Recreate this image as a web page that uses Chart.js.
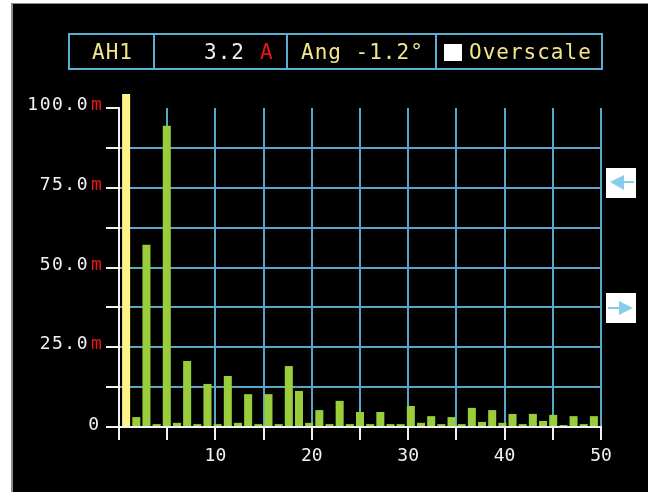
<!DOCTYPE html>
<html>
<head>
<meta charset="utf-8">
<title>Harmonics</title>
<script src="https://cdn.jsdelivr.net/npm/chart.js@4.4.1/dist/chart.umd.min.js"></script>
<style>
    html, body { margin: 0; padding: 0; background: #fff; width: 648px; height: 492px; overflow: hidden; }
    #screen {
        position: absolute; left: 11px; top: 3px; width: 637px; height: 489px;
        background: #000; box-sizing: border-box;
        border-left: 2px solid #8c8c8c; border-top: 1px solid #8c8c8c;
    }
    #wrap { position: absolute; left: 0; top: 0; width: 648px; height: 492px; }
    .hdr {
        position: absolute; left: 68px; top: 33px; width: 535px; height: 37px;
        border: 2px solid #5aaed0; box-sizing: border-box;
    }
    .sep { position: absolute; top: 33px; width: 2px; height: 37px; background: #5aaed0; }
    .txt {
        position: absolute; top: 42px; line-height: 21px; white-space: pre;
        font-family: "DejaVu Sans Mono", monospace; font-size: 21px; letter-spacing: 1px;
    }
    .yel { color: #f2e68c; }
    .wht { color: #f0f0f0; }
    .red { color: #e8141c; }
    .sq { position: absolute; left: 444px; top: 44px; width: 18px; height: 17px; background: #fff; }
    .btn { position: absolute; left: 606px; width: 30px; height: 30px; background: #fff; }
</style>
</head>
<body>
<div id="screen"></div>
<div id="wrap"><canvas id="harmChart"></canvas></div>

<!-- header strip -->
<div class="hdr"></div>
<div class="sep" style="left:153px"></div>
<div class="sep" style="left:286px"></div>
<div class="sep" style="left:435px"></div>
<div class="txt yel" style="left:92px">AH1</div>
<div class="txt wht" style="left:204px">3.2</div>
<div class="txt red" style="left:260px">A</div>
<div class="txt yel" style="left:301px">Ang -1.2°</div>
<div class="sq"></div>
<div class="txt yel" style="left:469px">Overscale</div>

<!-- cursor buttons -->
<div class="btn" style="top:168px">
    <svg width="30" height="30"><polygon points="4,14 18,7 18,22" fill="#87cdea"/><rect x="17" y="13" width="11" height="2" fill="#87cdea"/></svg>
</div>
<div class="btn" style="top:293px">
    <svg width="30" height="30"><rect x="2" y="14" width="12" height="2" fill="#87cdea"/><polygon points="27,15 13,8 13,22" fill="#87cdea"/></svg>
</div>

<script>
// --- Data ---
const harmonics = [1, 2, 3, 4, 5, 6, 7, 8, 9, 10, 11, 12, 13, 14, 15, 16, 17, 18, 19, 20,
    21, 22, 23, 24, 25, 26, 27, 28, 29, 30, 31, 32, 33, 34, 35, 36, 37, 38, 39, 40,
    41, 42, 43, 44, 45, 46, 47];
// levels in mA
const levels = [104.4, 3.1, 57.1, 0.9, 94.4, 1.3, 20.7, 0.9, 13.5, 0.9,
    16.0, 1.3, 10.3, 0.9, 10.3, 0.9, 19.1, 11.3, 1.3, 5.3,
    0.9, 8.2, 0.9, 4.7, 0.9, 4.7, 0.9, 0.9, 6.6, 1.3,
    3.4, 0.9, 3.1, 0.9, 6.0, 1.6, 5.3, 1.3, 4.1, 0.9,
    4.1, 1.9, 3.8, 0.6, 3.4, 0.9, 3.4];
const cursorHarmonic = 1;
const xTickLabels = [10, 20, 30, 40, 50];
const yTickValues = [100, 75, 50, 25, 0];
const yTickLabels = ['100.0', '75.0', '50.0', '25.0', '0'];
const yUnit = 'm';

const GRID = '#5aa8c8';
const AXIS = '#f2f2f2';
const FONT = '"DejaVu Sans Mono", monospace';

// y labels: number in white, unit in red
const yLabelPlugin = {
    id: 'yLabels',
    afterDraw(chart) {
        const ys = chart.scales.y;
        const ctx = chart.ctx;
        ctx.save();
        ctx.font = '18px ' + FONT;
        ctx.letterSpacing = '1.5px';
        ctx.textBaseline = 'alphabetic';
        yTickValues.forEach((v, i) => {
            const y = ys.getPixelForValue(v) + 2;
            const label = yTickLabels[i];
            if (v === 0) {
                ctx.fillStyle = AXIS;
                ctx.textAlign = 'right';
                ctx.fillText(label, 100.5, y + 1);
                return;
            }
            ctx.fillStyle = AXIS;
            ctx.textAlign = 'right';
            ctx.fillText(label, 89, y);
            ctx.fillStyle = '#e8141c';
            ctx.textAlign = 'left';
            ctx.fillText(yUnit, 91, y);
        });
        ctx.restore();
    }
};

new Chart(document.getElementById('harmChart'), {
    type: 'bar',
    data: {
        datasets: [{
            data: harmonics.map((h, i) => ({ x: h, y: levels[i] })),
            xAxisID: 'h',
            yAxisID: 'y',
            backgroundColor: harmonics.map(h => h === cursorHarmonic ? '#fff38a' : '#9acd3c'),
            borderWidth: 0,
            categoryPercentage: 1,
            barPercentage: 0.79,
            clip: false,
        }]
    },
    options: {
        responsive: true,
        maintainAspectRatio: false,
        animation: false,
        layout: { padding: { left: 0, top: 108, right: 47, bottom: 0 } },
        plugins: { legend: { display: false }, tooltip: { enabled: false } },
        scales: {
            h: {
                type: 'linear', axis: 'x', position: 'bottom', display: false,
                min: 0.3, max: 47.7, offset: false, grid: { offset: false },
            },
            x: {
                type: 'linear', position: 'bottom', min: 0, max: 50,
                offset: false,
                ticks: {
                    stepSize: 5, autoSkip: false, maxRotation: 0, padding: 6,
                    color: AXIS, font: { family: FONT, size: 18 },
                    callback: v => xTickLabels.includes(v) ? String(v) : '',
                },
                grid: {
                    offset: false,
                    color: c => (c.tick && c.tick.value === 0) ? 'rgba(0,0,0,0)' : GRID,
                    lineWidth: 2,
                    tickColor: AXIS, tickWidth: 2, tickLength: 13,
                },
                border: { color: AXIS, width: 2 },
                afterFit: s => { s.height = 65; },
            },
            y: {
                type: 'linear', min: 0, max: 100,
                ticks: { stepSize: 12.5, display: false },
                grid: {
                    color: c => (c.tick && c.tick.value === 100) ? 'rgba(0,0,0,0)' : GRID,
                    lineWidth: 2,
                    tickColor: AXIS, tickWidth: 2, tickLength: 13,
                },
                border: { color: AXIS, width: 2 },
                afterFit: s => { s.width = 119; },
            }
        }
    },
    plugins: [yLabelPlugin]
});
</script>
</body>
</html>
